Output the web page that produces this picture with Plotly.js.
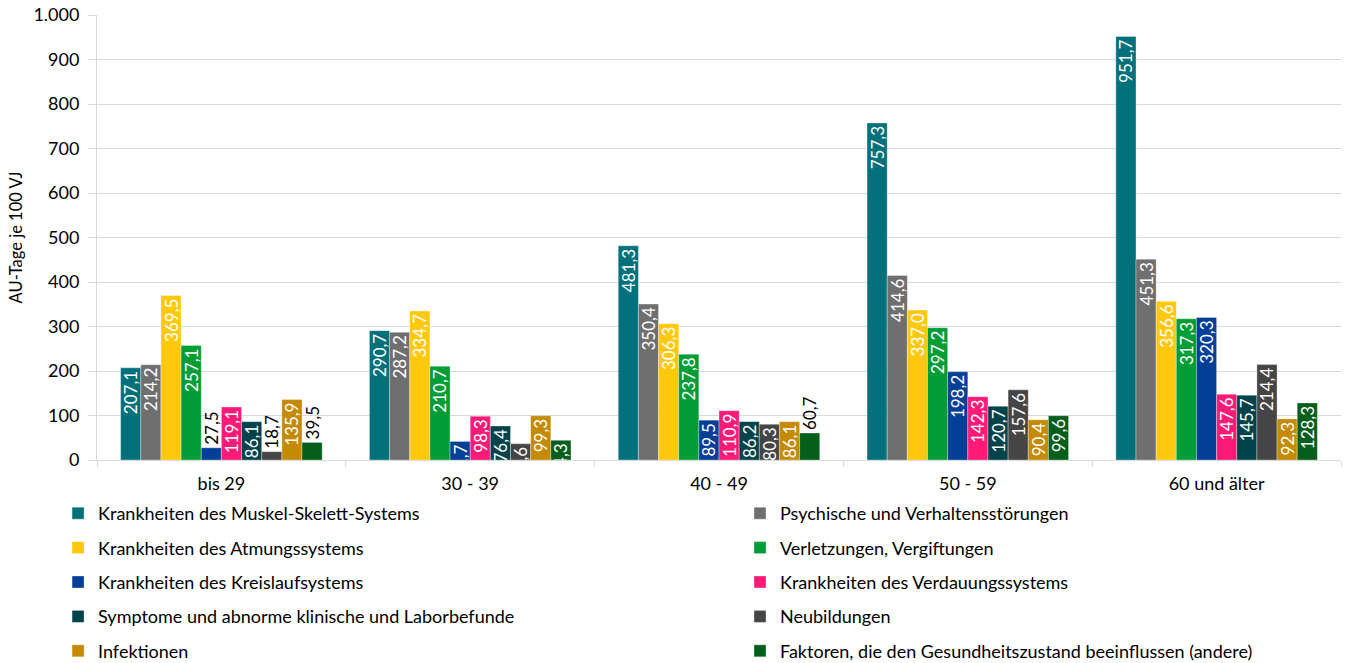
<!DOCTYPE html>
<html>
<head>
<meta charset="utf-8">
<script src="https://cdn.plot.ly/plotly-3.0.1.min.js"></script>
<style>
html,body{margin:0;padding:0;background:#fff;}
#chart{width:1349px;height:663px;}
</style>
</head>
<body>
<div id="chart"></div>
<script>
const categories = ["bis 29", "30 - 39", "40 - 49", "50 - 59", "60 und älter"];

const seriesNames = [
  "Krankheiten des Muskel-Skelett-Systems",
  "Psychische und Verhaltensstörungen",
  "Krankheiten des Atmungssystems",
  "Verletzungen, Vergiftungen",
  "Krankheiten des Kreislaufsystems",
  "Krankheiten des Verdauungssystems",
  "Symptome und abnorme klinische und Laborbefunde",
  "Neubildungen",
  "Infektionen",
  "Faktoren, die den Gesundheitszustand beeinflussen (andere)"
];

const muskelSkelett = [207.1, 290.7, 481.3, 757.3, 951.7];
const psychische    = [214.2, 287.2, 350.4, 414.6, 451.3];
const atmung        = [369.5, 334.7, 306.3, 337.0, 356.6];
const verletzungen  = [257.1, 210.7, 237.8, 297.2, 317.3];
const kreislauf     = [27.5, 41.7, 89.5, 198.2, 320.3];
const verdauung     = [119.1, 98.3, 110.9, 142.3, 147.6];
const symptome      = [86.1, 76.4, 86.2, 120.7, 145.7];
const neubildungen  = [18.7, 36.6, 80.3, 157.6, 214.4];
const infektionen   = [135.9, 99.3, 86.1, 90.4, 92.3];
const faktoren      = [39.5, 44.3, 60.7, 99.6, 128.3];

const seriesValues = [muskelSkelett, psychische, atmung, verletzungen, kreislauf,
                      verdauung, symptome, neubildungen, infektionen, faktoren];

const colors = ["#00717b", "#706f6f", "#ffc80c", "#009c36", "#033f97",
                "#fe1a76", "#00434a", "#454545", "#c48a00", "#045e1c"];

// labels drawn outside (dark text) for these series/category combos
const darkLabels = {
  4: [0],      // Kreislauf, bis 29
  7: [0],      // Neubildungen, bis 29
  9: [0, 2]    // Faktoren, bis 29 and 40-49
};

const FONT = "Lato, 'Open Sans', sans-serif";

const traces = seriesNames.map((name, i) => {
  const dark = darkLabels[i] || [];
  const pos = categories.map((c, j) => dark.includes(j) ? "outside" : "inside");
  const tcol = categories.map((c, j) => dark.includes(j) ? "#000000" : "#ffffff");
  return {
    type: "bar",
    name: name,
    x: categories,
    y: seriesValues[i],
    marker: {color: colors[i], line: {color: "rgba(255,255,255,0.55)", width: 0.6}},
    texttemplate: "%{y:.1f}",
    textposition: pos,
    insidetextanchor: "end",
    textangle: -90,
    constraintext: "none",
    cliponaxis: true,
    textfont: {family: FONT, size: 17, color: tcol},
    outsidetextfont: {family: FONT, size: 17, color: tcol},
    insidetextfont: {family: FONT, size: 17, color: tcol},
    legend: (i % 2 === 0) ? "legend" : "legend2",
    legendgroup: "g" + i,
    hoverinfo: "x+y+name"
  };
});

const legendCommon = {
  orientation: "v",
  yanchor: "top",
  xanchor: "left",
  y: -0.0787,
  tracegroupgap: 8,
  font: {family: FONT, size: 18, color: "#000"},
  bgcolor: "rgba(0,0,0,0)",
  itemwidth: 30
};

const layout = {
  width: 1349,
  height: 663,
  margin: {l: 97, r: 8, t: 15, b: 203, autoexpand: false},
  paper_bgcolor: "#ffffff",
  plot_bgcolor: "#ffffff",
  separators: ",.",
  barmode: "group",
  bargap: 0.19,
  bargroupgap: 0,
  font: {family: FONT, color: "#000"},
  xaxis: {
    type: "category",
    automargin: false,
    showgrid: false,
    showline: true,
    linecolor: "#d9d9d9",
    linewidth: 1,
    ticks: "outside",
    tickson: "boundaries",
    ticklen: 6,
    tickcolor: "#d9d9d9",
    ticklabelstandoff: 7,
    tickfont: {family: FONT, size: 18, color: "#000"},
    zeroline: false,
    layer: "below traces"
  },
  yaxis: {
    range: [0, 1000],
    dtick: 100,
    tickformat: ",.0f",
    automargin: false,
    showgrid: true,
    gridcolor: "#d9d9d9",
    gridwidth: 1,
    showline: true,
    linecolor: "#d9d9d9",
    ticks: "outside",
    ticklen: 8,
    tickcolor: "#d9d9d9",
    ticklabelstandoff: 5,
    tickfont: {family: FONT, size: 18, color: "#000"},
    zeroline: false,
    title: {text: "AU-Tage je 100 VJ", font: {family: FONT, size: 16.5, color: "#000"}, standoff: 6},
    layer: "below traces"
  },
  legend: Object.assign({}, legendCommon, {x: -0.0313}),
  legend2: Object.assign({}, legendCommon, {x: 0.5169}),
  showlegend: true
};

Plotly.newPlot("chart", traces, layout, {displayModeBar: false, staticPlot: true});
</script>
</body>
</html>
